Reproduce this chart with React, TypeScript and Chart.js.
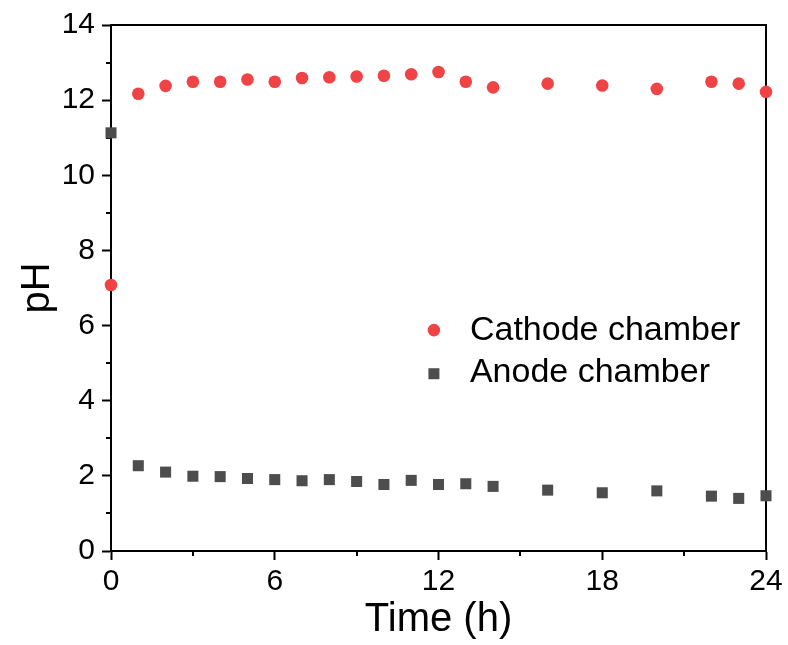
import React, { useEffect, useRef } from 'react';
import { Chart, registerables } from 'chart.js';

Chart.register(...registerables);

const timeHours = [0, 1, 2, 3, 4, 5, 6, 7, 8, 9, 10, 11, 12, 13, 14, 16, 18, 20, 22, 23, 24];
const cathodePH = [7.08, 12.17, 12.38, 12.49, 12.49, 12.55, 12.49, 12.59, 12.61, 12.63, 12.65, 12.69, 12.75, 12.49, 12.34, 12.44, 12.39, 12.3, 12.49, 12.44, 12.22];
const anodePH = [11.13, 2.27, 2.1, 1.99, 1.98, 1.93, 1.9, 1.87, 1.9, 1.85, 1.77, 1.88, 1.77, 1.79, 1.72, 1.62, 1.55, 1.6, 1.46, 1.4, 1.47];
const xMinorTicks = [3, 9, 15, 21];
const yMinorTicks = [1, 3, 5, 7, 9, 11, 13];
const seriesNames = ['Cathode chamber', 'Anode chamber'];

const FONT = '"Liberation Sans", Arial, Helvetica, sans-serif';
const RED = '#F04345';
const GRAY = '#4D4D4D';

const framePlugin = {
  id: 'frameAndMinor',
  beforeDatasetsDraw(chart: any) {
    const { ctx, chartArea } = chart;
    const { left, right, top, bottom } = chartArea;
    ctx.save();
    ctx.strokeStyle = '#000';
    ctx.lineWidth = 2;
    ctx.beginPath();
    ctx.moveTo(left, top);
    ctx.lineTo(right, top);
    ctx.lineTo(right, bottom);
    ctx.stroke();
    const xs = chart.scales.x;
    const ys = chart.scales.y;
    ctx.beginPath();
    xMinorTicks.forEach((v) => {
      const px = Math.round(xs.getPixelForValue(v));
      ctx.moveTo(px, bottom);
      ctx.lineTo(px, bottom + 5);
    });
    yMinorTicks.forEach((v) => {
      const py = Math.round(ys.getPixelForValue(v));
      ctx.moveTo(left, py);
      ctx.lineTo(left - 5, py);
    });
    ctx.stroke();
    ctx.restore();
  },
};

const legendPlugin = {
  id: 'insideLegend',
  afterDatasetsDraw(chart: any) {
    const { ctx, chartArea } = chart;
    const { left, top, right, bottom } = chartArea;
    const w = right - left;
    const h = bottom - top;
    const mx = left + w * 0.493;
    const tx = left + w * 0.548;
    const y1 = top + h * 0.58;
    const y2 = top + h * 0.663;
    ctx.save();
    ctx.fillStyle = RED;
    ctx.beginPath();
    ctx.arc(mx, y1, 6.3, 0, Math.PI * 2);
    ctx.fill();
    ctx.fillStyle = GRAY;
    ctx.fillRect(mx - 5.5, y2 - 5.5, 11, 11);
    ctx.fillStyle = '#000';
    ctx.font = `34px ${FONT}`;
    ctx.textBaseline = 'middle';
    ctx.textAlign = 'left';
    ctx.fillText(seriesNames[0], tx, y1 + 1);
    ctx.fillText(seriesNames[1], tx, y2 - 1);
    ctx.restore();
  },
};

export default function App() {
  const ref = useRef<HTMLCanvasElement>(null);
  useEffect(() => {
    document.body.style.margin = '0';
    const canvas = ref.current;
    if (!canvas) return;
    const chart = new Chart(canvas, {
      type: 'scatter',
      data: {
        datasets: [
          {
            label: seriesNames[0],
            data: timeHours.map((t, i) => ({ x: t, y: cathodePH[i] })),
            backgroundColor: RED,
            borderColor: RED,
            borderWidth: 0,
            pointStyle: 'circle',
            pointRadius: 6.3,
            pointHoverRadius: 6.3,
            clip: false as any,
          },
          {
            label: seriesNames[1],
            data: timeHours.map((t, i) => ({ x: t, y: anodePH[i] })),
            backgroundColor: GRAY,
            borderColor: GRAY,
            borderWidth: 0,
            pointStyle: 'rect',
            pointRadius: 7.8,
            pointHoverRadius: 7.8,
            clip: false as any,
          },
        ],
      },
      options: {
        animation: false,
        responsive: true,
        maintainAspectRatio: false,
        layout: { padding: { top: 25, right: 22, left: 0, bottom: 0 } },
        plugins: { legend: { display: false }, tooltip: { enabled: false } },
        scales: {
          x: {
            type: 'linear',
            min: 0,
            max: 24,
            ticks: {
              stepSize: 6,
              color: '#000',
              font: { family: FONT, size: 30 },
              padding: 4,
              maxRotation: 0,
            },
            grid: {
              drawOnChartArea: false,
              color: 'rgba(0,0,0,0)',
              tickColor: '#000',
              tickLength: 9,
              tickWidth: 2,
            },
            border: { display: true, color: '#000', width: 2 },
            title: {
              display: true,
              text: 'Time (h)',
              color: '#000',
              font: { family: FONT, size: 40 },
              padding: { top: 0, bottom: 1 },
            },
            afterFit(scale: any) {
              scale.height = 94;
            },
          },
          y: {
            type: 'linear',
            min: 0,
            max: 14,
            ticks: {
              stepSize: 2,
              color: '#000',
              font: { family: FONT, size: 30 },
              padding: 7,
            },
            grid: {
              drawOnChartArea: false,
              color: 'rgba(0,0,0,0)',
              tickColor: '#000',
              tickLength: 9,
              tickWidth: 2,
            },
            border: { display: true, color: '#000', width: 2 },
            title: {
              display: true,
              text: 'pH',
              color: '#000',
              font: { family: FONT, size: 40 },
              padding: { top: 14, bottom: 0 },
            },
            afterFit(scale: any) {
              scale.width = 111;
            },
          },
        },
      },
      plugins: [framePlugin, legendPlugin],
    });
    return () => chart.destroy();
  }, []);
  return (
    <div style={{ width: 788, height: 645, position: 'relative' }}>
      <canvas ref={ref} />
    </div>
  );
}
